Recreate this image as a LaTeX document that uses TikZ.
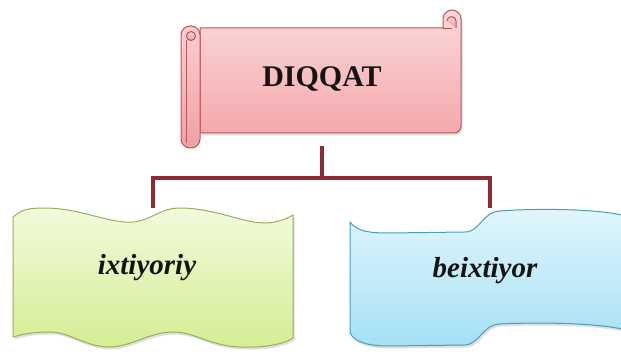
\documentclass[tikz,border=0pt]{standalone}
\usepackage{fontspec}
\setmainfont{Liberation Serif}
\usepackage{tikz}
\usetikzlibrary{positioning,shadows}
\definecolor{Ink}{HTML}{141414}
\definecolor{BranchRed}{HTML}{8E2C36}
\definecolor{ScrollEdge}{HTML}{B9545A}
\definecolor{ScrollTop}{HTML}{FBD9D9}
\definecolor{ScrollBot}{HTML}{F4A8AD}
\definecolor{GreenEdge}{HTML}{93B356}
\definecolor{GreenTop}{HTML}{F2FADC}
\definecolor{GreenBot}{HTML}{D4EE93}
\definecolor{BlueEdge}{HTML}{4A9EB8}
\definecolor{BlueTop}{HTML}{E2F6FC}
\definecolor{BlueBot}{HTML}{A4E0F5}
\tikzset{
  softShadow/.style={drop shadow={opacity=.25,shadow xshift=1.5pt,shadow yshift=-2.5pt}},
  scrollBody/.style={draw=ScrollEdge,line width=1pt,top color=ScrollTop,bottom color=ScrollBot,
    line join=round},
  scrollRoll/.style={scrollBody,top color=ScrollTop!80!ScrollBot,bottom color=ScrollBot!90!ScrollEdge},
  waveGreen/.style={draw=GreenEdge,line width=1pt,top color=GreenTop,bottom color=GreenBot,softShadow},
  waveBlue/.style={draw=BlueEdge,line width=1pt,top color=BlueTop,bottom color=BlueBot,softShadow},
  branchLine/.style={draw=BranchRed,line width=3.6pt},
  headText/.style={text=Ink,font=\bfseries\fontsize{30}{32}\selectfont,inner sep=1pt},
  itemText/.style={text=Ink,font=\bfseries\itshape\fontsize{29}{31}\selectfont,inner sep=1pt}
}
\begin{document}
\begin{tikzpicture}[x=1pt,y=-1pt]
  \useasboundingbox (0,0) rectangle (621,352);
  % top scroll
  \path[scrollBody,softShadow] (200,28) -- (443,28) -- (443,19) arc[start angle=180,end angle=360,radius=9]
    -- (461,126) arc[start angle=0,end angle=90,radius=7] -- (200,133) -- cycle;
  \draw[scrollRoll] (447,21) arc[start angle=180,end angle=360,radius=4.5] -- (456,28);
  \draw[ScrollEdge,line width=.8pt] (443,28) -- (452,28);
  \path[scrollRoll,rounded corners=9pt] (181,26) rectangle (200,148);
  \draw[scrollRoll] (191,36) circle[radius=4.5];
  \draw[ScrollEdge,line width=.8pt] (186,40) -- (186,143);
  % lower shapes
  \path[waveGreen] (13,217) .. controls (22,209) and (30,208) .. (45,208)
    .. controls (80,208) and (110,224) .. (133,222) .. controls (150,221) and (160,208) .. (180,208)
    .. controls (215,208) and (245,224) .. (267,223) .. controls (280,222) and (288,218) .. (293,215)
    -- (293,338) .. controls (285,343) and (270,348) .. (240,347) .. controls (210,346) and (195,332) .. (173,332)
    .. controls (150,332) and (130,347) .. (110,347) .. controls (85,347) and (70,332) .. (50,332)
    .. controls (30,332) and (20,335) .. (13,337) -- cycle;
  \path[waveBlue] (350,222) .. controls (358,232) and (370,233) .. (390,233) -- (465,232)
    .. controls (480,232) and (482,212) .. (500,211) .. controls (540,208) and (600,209) .. (626,216)
    -- (626,330) .. controls (600,323) and (540,322) .. (500,324) .. controls (482,325) and (480,344) .. (465,345)
    -- (390,346) .. controls (370,346) and (355,343) .. (350,333) -- cycle;
  \node[headText] (diqqat) at (322,79) {DIQQAT};
  \node[itemText] (ixt) at (147,268) {ixtiyoriy};
  \node[itemText] (bei) at (485,271) {beixtiyor};
  \coordinate (foot) at (322,146);
  \coordinate (ixtTop) at (153,208);
  \coordinate (beiTop) at (490,208);
  \draw[branchLine] (foot) -- ++(0,32) -| (ixtTop);
  \draw[branchLine] (foot) -- ++(0,32) -| (beiTop);
\end{tikzpicture}
\end{document}
